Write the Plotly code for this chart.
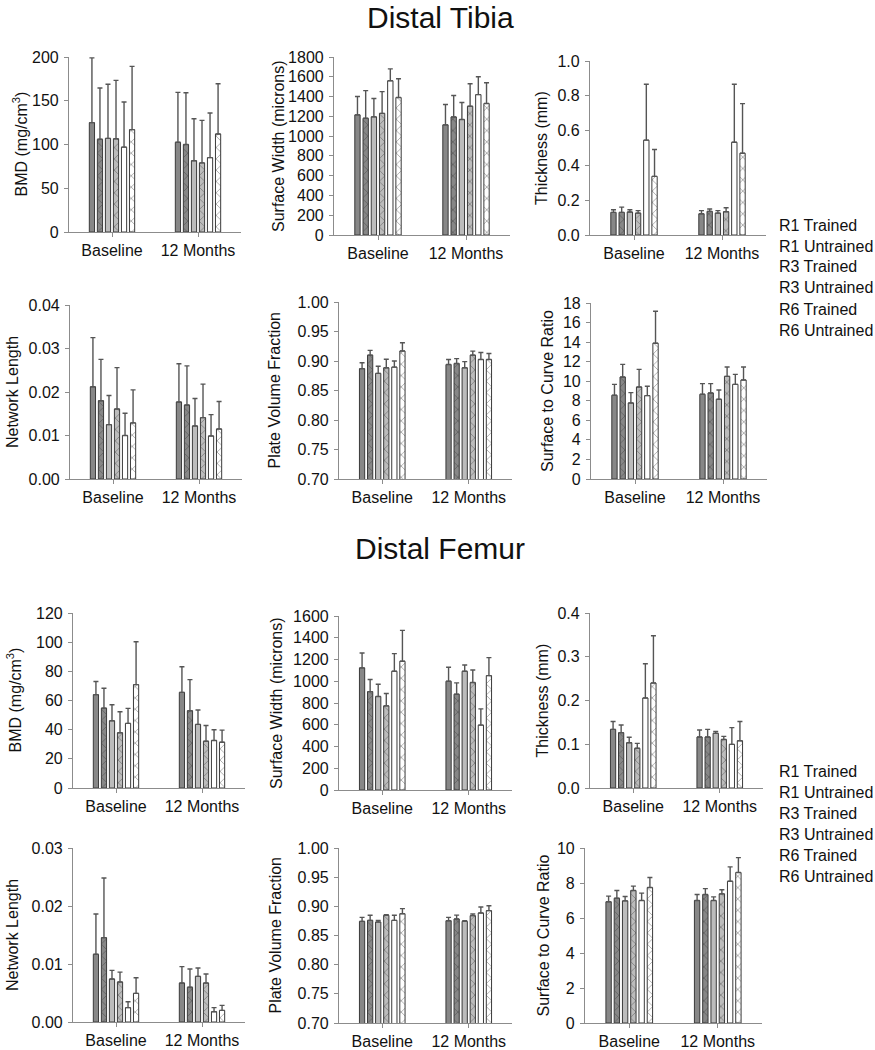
import plotly.graph_objects as go

categories = ["Baseline", "12 Months"]
groups = ["R1 Trained", "R1 Untrained", "R3 Trained", "R3 Untrained", "R6 Trained", "R6 Untrained"]

# ---- Distal Tibia (mean baseline, mean 12 months, sd baseline, sd 12 months) ----
tib_bmd_base = [125, 106, 107, 106.5, 97, 117]
tib_bmd_12m = [102.5, 100, 81.5, 79, 85, 112]
tib_bmd_sd_base = [74, 58.6, 61.8, 66.8, 51.6, 72.3]
tib_bmd_sd_12m = [57.1, 59.2, 48, 48.6, 51, 57.5]

tib_sw_base = [1215, 1180, 1195, 1230, 1560, 1390]
tib_sw_12m = [1114, 1194, 1168, 1302, 1420, 1330]
tib_sw_sd_base = [185, 280, 185, 220, 120, 190]
tib_sw_sd_12m = [206, 216, 172, 228, 180, 210]

tib_th_base = [0.13, 0.13, 0.132, 0.126, 0.545, 0.337]
tib_th_12m = [0.122, 0.136, 0.126, 0.134, 0.533, 0.47]
tib_th_sd_base = [0.015, 0.03, 0.013, 0.014, 0.321, 0.154]
tib_th_sd_12m = [0.018, 0.013, 0.014, 0.023, 0.333, 0.285]

tib_nl_base = [0.0212, 0.018, 0.0125, 0.0161, 0.0100, 0.0129]
tib_nl_12m = [0.0177, 0.017, 0.0122, 0.0141, 0.0099, 0.0115]
tib_nl_sd_base = [0.0113, 0.0095, 0.0067, 0.0095, 0.0051, 0.0076]
tib_nl_sd_12m = [0.0088, 0.009, 0.0063, 0.0077, 0.0049, 0.0063]

tib_pvf_base = [0.887, 0.910, 0.879, 0.8885, 0.8896, 0.917]
tib_pvf_12m = [0.894, 0.8958, 0.8885, 0.910, 0.9026, 0.9026]
tib_pvf_sd_base = [0.010, 0.008, 0.012, 0.0145, 0.0104, 0.014]
tib_pvf_sd_12m = [0.0086, 0.0082, 0.0105, 0.0067, 0.0118, 0.0101]

tib_stc_base = [8.56, 10.43, 7.78, 9.41, 8.53, 13.89]
tib_stc_12m = [8.66, 8.8, 8.15, 10.5, 9.68, 10.12]
tib_stc_sd_base = [1.12, 1.29, 1.05, 1.8, 0.95, 3.26]
tib_stc_sd_12m = [1.09, 0.95, 0.95, 0.95, 1.02, 1.33]

# ---- Distal Femur ----
fem_bmd_base = [64.0, 54.8, 46.1, 37.9, 44.3, 70.9]
fem_bmd_12m = [65.6, 53.0, 43.6, 32.1, 32.6, 31.4]
fem_bmd_sd_base = [9.0, 13.6, 11.0, 14.4, 10.3, 29.4]
fem_bmd_sd_12m = [17.5, 21.3, 9.9, 10.8, 7.3, 8.3]

fem_sw_base = [1123, 905, 860, 774, 1092, 1184]
fem_sw_12m = [1000, 881, 1092, 988, 597, 1052]
fem_sw_sd_base = [137, 111, 113, 113, 162, 284]
fem_sw_sd_12m = [129, 104, 58, 116, 149, 165]

fem_th_base = [0.134, 0.1265, 0.1036, 0.0907, 0.2057, 0.24]
fem_th_12m = [0.1166, 0.1166, 0.125, 0.111, 0.0998, 0.108]
fem_th_sd_base = [0.018, 0.0175, 0.0124, 0.0113, 0.0783, 0.108]
fem_th_sd_12m = [0.016, 0.0174, 0.0045, 0.007, 0.0382, 0.044]

fem_nl_base = [0.01167, 0.01454, 0.00741, 0.0069, 0.00247, 0.00494]
fem_nl_12m = [0.00672, 0.006, 0.00787, 0.00672, 0.00178, 0.002]
fem_nl_sd_base = [0.00695, 0.01029, 0.00149, 0.0017, 0.00103, 0.0027]
fem_nl_sd_12m = [0.00282, 0.00314, 0.00143, 0.00156, 0.00069, 0.00087]

fem_pvf_base = [0.8743, 0.876, 0.8731, 0.8846, 0.876, 0.8874]
fem_pvf_12m = [0.8754, 0.8783, 0.8743, 0.884, 0.8886, 0.8926]
fem_pvf_sd_base = [0.0068, 0.0086, 0.0029, 0.0011, 0.0086, 0.0086]
fem_pvf_sd_12m = [0.0057, 0.0067, 0.0011, 0.0029, 0.0103, 0.0085]

fem_stc_base = [6.93, 7.13, 6.98, 7.57, 7.0, 7.74]
fem_stc_12m = [7.0, 7.34, 7.0, 7.38, 8.1, 8.6]
fem_stc_sd_base = [0.32, 0.44, 0.25, 0.25, 0.42, 0.57]
fem_stc_sd_12m = [0.34, 0.34, 0.21, 0.23, 0.82, 0.85]

panels = [
    (tib_bmd_base, tib_bmd_12m, tib_bmd_sd_base, tib_bmd_sd_12m, "BMD (mg/cm<sup>3</sup>)", [0, 200], 50, "d", (69, 241), (57, 232), 20),
    (tib_sw_base, tib_sw_12m, tib_sw_sd_base, tib_sw_sd_12m, "Surface Width (microns)", [0, 1800], 200, "d", (334, 510), (57, 235), 278),
    (tib_th_base, tib_th_12m, tib_th_sd_base, tib_th_sd_12m, "Thickness (mm)", [0, 1.0], 0.2, ".1f", (590, 766), (61, 235), 541),
    (tib_nl_base, tib_nl_12m, tib_nl_sd_base, tib_nl_sd_12m, "Network Length", [0, 0.04], 0.01, ".2f", (70, 242), (305, 479), 13),
    (tib_pvf_base, tib_pvf_12m, tib_pvf_sd_base, tib_pvf_sd_12m, "Plate Volume Fraction", [0.70, 1.00], 0.05, ".2f", (339, 512), (302, 479), 274),
    (tib_stc_base, tib_stc_12m, tib_stc_sd_base, tib_stc_sd_12m, "Surface to Curve Ratio", [0, 18], 2, "d", (591, 767), (303, 479), 547),
    (fem_bmd_base, fem_bmd_12m, fem_bmd_sd_base, fem_bmd_sd_12m, "BMD (mg/cm<sup>3</sup>)", [0, 120], 20, "d", (73, 245), (613, 788), 14),
    (fem_sw_base, fem_sw_12m, fem_sw_sd_base, fem_sw_sd_12m, "Surface Width (microns)", [0, 1600], 200, "d", (339, 512), (616, 790), 276),
    (fem_th_base, fem_th_12m, fem_th_sd_base, fem_th_sd_12m, "Thickness (mm)", [0, 0.4], 0.1, ".1f", (590, 763), (613, 788), 542),
    (fem_nl_base, fem_nl_12m, fem_nl_sd_base, fem_nl_sd_12m, "Network Length", [0, 0.03], 0.01, ".2f", (73, 245), (848, 1022), 13),
    (fem_pvf_base, fem_pvf_12m, fem_pvf_sd_base, fem_pvf_sd_12m, "Plate Volume Fraction", [0.70, 1.00], 0.05, ".2f", (339, 512), (848, 1023), 275),
    (fem_stc_base, fem_stc_12m, fem_stc_sd_base, fem_stc_sd_12m, "Surface to Curve Ratio", [0, 10], 2, "d", (585, 762), (848, 1023), 543),
]

W, H = 875, 1050
fills = ["#878787", "#878787", "#bcbcbc", "#bcbcbc", "#ffffff", "#ffffff"]
patterns = ["", "x", "", "x", "", "x"]
FONT = "Liberation Sans, Arial, sans-serif"
FS = 16

fig = go.Figure()
annotations = []
layout_axes = {}

for i, (mb, mm, sb, sm, ytitle, yrange, dtick, fmt, xp, yp, tx) in enumerate(panels, start=1):
    xa = "x" if i == 1 else f"x{i}"
    ya = "y" if i == 1 else f"y{i}"
    for g in range(6):
        fig.add_trace(go.Bar(
            x=categories, y=[mb[g], mm[g]], name=groups[g],
            xaxis=xa, yaxis=ya, offsetgroup=str(g), showlegend=False,
            marker=dict(color=fills[g], line=dict(color="#3a3a3a", width=1),
                        pattern=dict(shape=patterns[g], fgcolor="#333333", size=8, solidity=0.18)),
            error_y=dict(type="data", symmetric=False, array=[sb[g], sm[g]], arrayminus=[0, 0],
                         color="#555555", thickness=1.4, width=2.5),
        ))
    xd = [xp[0] / W, xp[1] / W]
    yd = [1 - yp[1] / H, 1 - yp[0] / H]
    layout_axes["xaxis" if i == 1 else f"xaxis{i}"] = dict(
        domain=xd, anchor=ya, range=[-0.5, 1.5], type="category",
        showline=True, linecolor="#8c8c8c", linewidth=1.2, ticks="outside", ticklen=4,
        tickcolor="#8c8c8c", showgrid=False, zeroline=False,
        tickfont=dict(family=FONT, size=FS, color="#111"), automargin=False)
    layout_axes["yaxis" if i == 1 else f"yaxis{i}"] = dict(
        domain=yd, anchor=xa, range=yrange, dtick=dtick, tick0=yrange[0], tickformat=fmt,
        showline=True, linecolor="#8c8c8c", linewidth=1.2, ticks="outside", ticklen=4,
        tickcolor="#8c8c8c", showgrid=False, zeroline=False, ticklabelstandoff=2,
        tickfont=dict(family=FONT, size=FS, color="#111"), automargin=False)
    annotations.append(dict(
        text=ytitle, x=tx / W, y=1 - (yp[0] + yp[1]) / 2 / H, xref="paper", yref="paper",
        textangle=-90, showarrow=False, xanchor="center", yanchor="middle",
        font=dict(family=FONT, size=FS, color="#111")))

# Section titles
for title, ty in (("Distal Tibia", 18), ("Distal Femur", 548)):
    annotations.append(dict(text=title, x=440 / W, y=1 - ty / H, xref="paper", yref="paper",
                            showarrow=False, xanchor="center", yanchor="middle",
                            font=dict(family=FONT, size=30, color="#111")))

# Legend-like labels (text only, as in the reference)
for start in (225, 771):
    for k, g in enumerate(groups):
        annotations.append(dict(text=g, x=777 / W, y=1 - (start + 21 * k) / H, xref="paper", yref="paper",
                                showarrow=False, xanchor="left", yanchor="middle",
                                font=dict(family=FONT, size=FS, color="#111")))

fig.update_layout(
    width=W, height=H, margin=dict(l=0, r=0, t=0, b=0),
    paper_bgcolor="white", plot_bgcolor="white",
    barmode="group", bargap=0.44, bargroupgap=0.35,
    showlegend=False, annotations=annotations,
    font=dict(family=FONT, size=FS, color="#111"),
    **layout_axes,
)

fig.write_html("out.html", config={"displayModeBar": False},
               post_script="document.body.style.margin='0';")
